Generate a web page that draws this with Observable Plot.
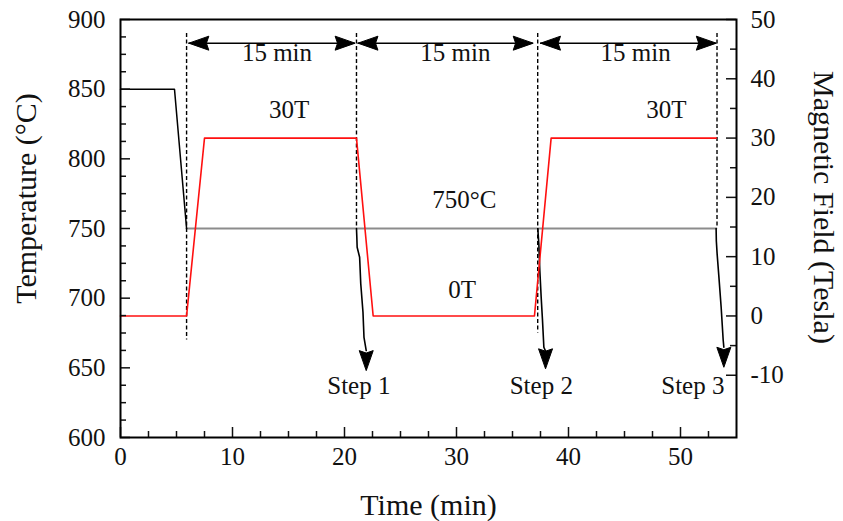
<!DOCTYPE html>
<html><head><meta charset="utf-8">
<script src="https://cdn.jsdelivr.net/npm/d3@7"></script>
<script src="https://cdn.jsdelivr.net/npm/@observablehq/plot@0.6"></script>
<style>body{margin:0;background:#fff}</style>
</head><body><div id="chart"></div>
<script>
// Temperature (black) and 750 °C hold (grey)
const tempTime = [0, 4.82, 5.9];
const tempC = [850, 850, 750];
const holdTime = [5.9, 53.2];
const holdC = [750, 750];
// Magnetic field (red, right axis)
const fieldTime = [0, 5.9, 7.5, 21.07, 22.56, 36.96, 38.45, 53.2];
const fieldTesla = [0, 0, 30, 30, 0, 0, 30, 30];
// Cooling (quench) curves
const step1Time = [21.07, 21.1, 21.13, 21.35, 21.4, 21.45, 21.65, 21.7, 21.74, 21.94];
const step1C =    [750, 744, 736.5, 729.4, 720, 710.5, 689.9, 680, 671.9, 662.4];
const step2Time = [37.26, 37.35, 37.44, 37.56, 37.68, 37.8, 37.95];
const step2C =    [749.8, 739, 719.8, 700.6, 683.9, 664.8, 662];
const step3Time = [53.18, 53.2, 53.27, 53.42, 53.63, 53.81, 53.87];
const step3C =    [750, 741, 731.8, 716.2, 693.5, 670, 664.8];
const stepTipTime = [21.94, 37.95, 53.87];
const stepTipC = [648, 649.3, 650.4];
const stepNames = ["Step 1", "Step 2", "Step 3"];
const stepLabelTime = [21.28, 37.57, 51.1];
const stepLabelC = [637.3, 637.3, 637.3];
// Dashed markers
const dashTime = [5.9, 21.07, 37.25, 53.26];
const dashTop = [890, 890, 890, 890];
const dashBottom = [670, 750, 675, 750];
// 15 min arrows
const spanStart = [6.1, 21.2, 37.5];
const spanEnd = [20.95, 36.85, 53.2];
const spanC = [883, 883, 883];
const spanLabels = ["15 min", "15 min", "15 min"];
const spanLabelTime = [13.97, 29.9, 46.0];
const spanLabelC = [875.6, 875.6, 875.6];
// Other annotations
const noteText = ["30T", "30T", "750°C", "0T"];
const noteTime = [15.05, 48.75, 30.7, 30.5];
const noteC = [835.4, 835.4, 770.8, 706];
// Ticks
const xMajor = [0, 10, 20, 30, 40, 50];
const xMinor = [2.5, 5, 7.5, 12.5, 15, 17.5, 22.5, 25, 27.5, 32.5, 35, 37.5, 42.5, 45, 47.5, 52.5];
const leftMajor = [600, 650, 700, 750, 800, 850, 900];
const leftMinor = [612.5, 625, 637.5, 662.5, 675, 687.5, 712.5, 725, 737.5, 762.5, 775, 787.5, 812.5, 825, 837.5, 862.5, 875, 887.5];
const rightMajor = [-10, 0, 10, 20, 30, 40, 50];
const rightMinor = [-5, 5, 15, 25, 35, 45];

const toTemp = b => 600 + (b + 20.5) * 300 / 70.5;
const fromTemp = t => (t - 600) * 70.5 / 300 - 20.5;
const zip = (xs, ys) => xs.map((x, i) => ({x, y: ys[i]}));
const W = 843, H = 521, mT = 19, mB = 84, mL = 120, mR = 107;
const fw = W - mL - mR, fh = H - mT - mB;

// arrowhead symbols with the tip at the anchor point
const L = 20, R = 7, N = 0.88;
const headDown = {draw(c) { c.moveTo(0, 0); c.lineTo(R, -L); c.lineTo(0, -L * N); c.lineTo(-R, -L); c.closePath(); }};
const headLeft = {draw(c) { c.moveTo(0, 0); c.lineTo(L, -R); c.lineTo(L * N, 0); c.lineTo(L, R); c.closePath(); }};
const headRight = {draw(c) { c.moveTo(0, 0); c.lineTo(-L, -R); c.lineTo(-L * N, 0); c.lineTo(-L, R); c.closePath(); }};

const idx3 = [0, 1, 2];
const chart = Plot.plot({
  width: W, height: H,
  marginTop: mT, marginBottom: mB, marginLeft: mL, marginRight: mR,
  style: {fontFamily: "'Liberation Serif', 'Times New Roman', serif", fontSize: "25px", background: "#fff", color: "#111"},
  x: {domain: [0, 55]},
  y: {domain: [600, 900]},
  marks: [
    Plot.line(zip(holdTime, holdC), {x: "x", y: "y", stroke: "#8c8c8c", strokeWidth: 2}),
    Plot.line(zip(tempTime, tempC), {x: "x", y: "y", stroke: "#000", strokeWidth: 1.5}),
    Plot.ruleX([0, 1, 2, 3], {x: i => dashTime[i], y1: i => dashTop[i], y2: i => dashBottom[i], stroke: "#000", strokeWidth: 1.4, strokeDasharray: "4,2.5"}),
    Plot.line(zip(step1Time, step1C), {x: "x", y: "y", stroke: "#000", strokeWidth: 1.6}),
    Plot.line(zip(step2Time, step2C), {x: "x", y: "y", stroke: "#000", strokeWidth: 1.6}),
    Plot.line(zip(step3Time, step3C), {x: "x", y: "y", stroke: "#000", strokeWidth: 1.6}),
    Plot.line(zip(fieldTime, fieldTesla.map(toTemp)), {x: "x", y: "y", stroke: "#ff1010", strokeWidth: 1.6}),
    Plot.dot(idx3, {x: i => stepTipTime[i], y: i => stepTipC[i], symbol: headDown, fill: "#000", stroke: "#000", strokeWidth: 1}),
    Plot.ruleY(idx3, {y: i => spanC[i], x1: i => spanStart[i], x2: i => spanEnd[i], stroke: "#000", strokeWidth: 1.6}),
    Plot.dot(idx3, {x: i => spanStart[i], y: i => spanC[i], symbol: headLeft, fill: "#000", stroke: "#000", strokeWidth: 1}),
    Plot.dot(idx3, {x: i => spanEnd[i], y: i => spanC[i], symbol: headRight, fill: "#000", stroke: "#000", strokeWidth: 1}),
    Plot.text(idx3, {x: i => spanLabelTime[i], y: i => spanLabelC[i], text: i => spanLabels[i], fontSize: 25}),
    Plot.text(idx3, {x: i => stepLabelTime[i], y: i => stepLabelC[i], text: i => stepNames[i], fontSize: 25}),
    Plot.text([0, 1, 2, 3], {x: i => noteTime[i], y: i => noteC[i], text: i => noteText[i], fontSize: 25}),
    // inward ticks
    Plot.tickX(xMajor, {x: d => d, insetTop: fh - 10, strokeWidth: 1.5}),
    Plot.tickX(xMinor, {x: d => d, insetTop: fh - 6, strokeWidth: 1.5}),
    Plot.tickY(leftMajor, {y: d => d, insetRight: fw - 10, strokeWidth: 1.5}),
    Plot.tickY(leftMinor, {y: d => d, insetRight: fw - 6, strokeWidth: 1.5}),
    Plot.tickY(rightMajor.map(toTemp), {y: d => d, insetLeft: fw - 10, strokeWidth: 1.5}),
    Plot.tickY(rightMinor.map(toTemp), {y: d => d, insetLeft: fw - 6, strokeWidth: 1.5}),
    // axes labels
    Plot.axisX({ticks: xMajor, tickSize: 0, tickPadding: 10, tickFormat: d => String(d), label: null, fontSize: 25}),
    Plot.axisY({ticks: leftMajor, anchor: "left", tickSize: 0, tickPadding: 15, tickFormat: d => String(d), label: null, fontSize: 25}),
    Plot.axisY(rightMajor.map(toTemp), {anchor: "right", tickSize: 0, tickPadding: 14, tickFormat: d => String(Math.round(fromTemp(d))), label: null, fontSize: 25}),
    Plot.frame({stroke: "#000", strokeWidth: 2}),
    Plot.text(["Temperature (°C)"], {text: d => d, frameAnchor: "left", textAnchor: "middle", lineAnchor: "middle", dx: -94, dy: -30, rotate: -90, fontSize: 30}),
    Plot.text(["Magnetic Field (Tesla)"], {text: d => d, frameAnchor: "right", textAnchor: "middle", lineAnchor: "middle", dx: 87, dy: -21, rotate: 90, fontSize: 30}),
    Plot.text(["Time (min)"], {text: d => d, frameAnchor: "bottom", textAnchor: "middle", lineAnchor: "middle", dy: 68, fontSize: 30})
  ]
});
document.getElementById("chart").append(chart);
</script>
</body></html>
